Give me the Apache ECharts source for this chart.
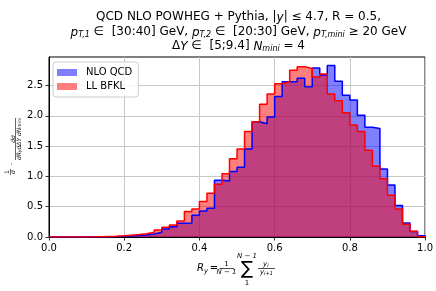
<!DOCTYPE html>
<html><head><meta charset="utf-8">
<script src="https://cdn.jsdelivr.net/npm/echarts@6/dist/echarts.min.js"></script>
<style>html,body{margin:0;padding:0;background:#fff}#c{width:436px;height:291px}</style>
</head><body><div id="c"></div>
<script>
// bin edges (width 0.02)
const binEdges = [0.00,0.02,0.04,0.06,0.08,0.10,0.12,0.14,0.16,0.18,
  0.20,0.22,0.24,0.26,0.28,0.30,0.32,0.34,0.36,0.38,
  0.40,0.42,0.44,0.46,0.48,0.50,0.52,0.54,0.56,0.58,
  0.60,0.62,0.64,0.66,0.68,0.70,0.72,0.74,0.76,0.78,
  0.80,0.82,0.84,0.86,0.88,0.90,0.92,0.94,0.96,0.98,1.00];
const nloQCD = [0,0,0,0,0,0.002,0.003,0.005,0.008,0.012,
  0.018,0.025,0.033,0.05,0.078,0.13,0.17,0.225,0.23,0.36,
  0.43,0.475,0.935,0.925,1.08,1.15,1.45,1.90,1.87,1.98,
  2.32,2.56,2.56,2.62,2.48,2.79,2.67,2.83,2.57,2.34,
  2.26,2.01,1.81,1.79,1.12,0.86,0.52,0.23,0.09,0.02];
const llBFKL = [0,0,0,0.001,0.002,0.003,0.006,0.01,0.014,0.02,
  0.03,0.04,0.055,0.08,0.115,0.16,0.2,0.265,0.42,0.46,
  0.585,0.72,0.87,1.045,1.29,1.45,1.74,1.9,2.19,2.36,
  2.53,2.56,2.75,2.81,2.78,2.64,2.69,2.36,2.25,2.05,
  1.85,1.74,1.43,1.17,0.96,0.69,0.46,0.21,0.095,0.005];
const xTicks = [0.0,0.2,0.4,0.6,0.8,1.0];
const yTicks = [0.0,0.5,1.0,1.5,2.0,2.5];
const seriesNames = ['NLO QCD','LL BFKL'];

function stepData(vals){
  const d = vals.map((v,i)=>[binEdges[i], v]);
  d.push([binEdges[vals.length], vals[vals.length-1]]);
  d.push([binEdges[vals.length], 0]);
  return d;
}
const FONT = 'DejaVu Sans';
const chart = echarts.init(document.getElementById('c'), null, {renderer:'canvas'});
function areaSeries(name, vals, col, z){
  return {name, type:'line', step:'end', data:stepData(vals), showSymbol:false, symbol:'none',
    lineStyle:{width:0, color:col}, itemStyle:{color:col}, areaStyle:{color:col, opacity:0.5},
    z, silent:true, animation:false};
}
function lineSeries(name, vals, col, z){
  return {name, type:'line', step:'end', data:stepData(vals), showSymbol:false, symbol:'none',
    lineStyle:{width:1.5, color:col}, itemStyle:{color:col}, z, silent:true, animation:false};
}
const txt = (text, x, y, size, extra) => ({type:'text', x, y, silent:true,
  style: Object.assign({text, font: (extra&&extra.italic?'italic ':'') + size + 'px ' + FONT, fill:'#000',
   align:'center', verticalAlign:'middle'}, extra&&extra.style||{})});
const ln = (x1,y1,x2,y2,w) => ({type:'line', silent:true, shape:{x1,y1,x2,y2}, style:{stroke:'#000', lineWidth:w||0.7}});

const rich = {
  i:{fontStyle:'italic', fontSize:12, fontFamily:FONT, lineHeight:14, verticalAlign:'bottom'},
  s:{fontStyle:'italic', fontSize:8, fontFamily:FONT, lineHeight:10, verticalAlign:'bottom', padding:[6,0,0,0]}
};
const titleLine = (text, y) => ({type:'text', x:238.5, y, silent:true,
  style:{text, font:'12px '+FONT, fill:'#000', align:'center', verticalAlign:'middle', rich}});

const graphics = [
  titleLine('QCD NLO POWHEG + Pythia, |{i|y}| ≤ 4.7, R = 0.5,', 17),
  titleLine('{i|p}{s|T,1} ∈  [30:40] GeV, {i|p}{s|T,2} ∈  [20:30] GeV, {i|p}{s|T,mini} ≥ 20 GeV', 31.5),
  titleLine('Δ{i|Y} ∈  [5;9.4] {i|N}{s|mini} = 4', 45.5),
  // x axis name
  txt('R', 200.5, 268, 10, {italic:true}),
  txt('y', 206, 271, 7, {italic:true}),
  txt('=', 214, 268, 10),
  txt('1', 226.5, 264.5, 7),
  ln(219.5, 268.5, 234, 268.5),
  txt('N − 1', 226.5, 272.5, 7, {italic:true}),
  txt('N − 1', 247, 256.5, 7, {italic:true}),
  txt('∑', 247, 269, 18),
  txt('1', 247, 283.5, 7),
  txt('y', 265, 264, 7, {italic:true}),
  txt('i', 268, 266, 5, {italic:true}),
  ln(258, 268.5, 275, 268.5),
  txt('y', 262, 272, 7, {italic:true}),
  txt('i+1', 268.5, 274, 5, {italic:true}),
  // y axis name (rotated group)
  {type:'group', x:15, y:150, rotation:Math.PI/2, silent:true, children:[
    txt('1', -22, -7.5, 6),
    ln(-25, -4.5, -19, -4.5, 0.6),
    txt('σ', -22, -1.5, 6, {italic:true}),
    txt('·', -14, -3, 7),
    txt('dσ', 11, -2, 6, {italic:true}),
    ln(-10, 0.5, 32, 0.5, 0.6),
    {type:'text', x:11, y:3.5, silent:true, style:{text:'{a|dR}{b|y}{a|dΔY dN}{b|mini}', align:'center', verticalAlign:'middle',
      rich:{a:{fontSize:6, fontStyle:'italic', fontFamily:FONT, fill:'#000', verticalAlign:'bottom', lineHeight:7},
            b:{fontSize:4.5, fontStyle:'italic', fontFamily:FONT, fill:'#000', verticalAlign:'bottom', lineHeight:5, padding:[2,0,0,0]}}}}
  ]}
];

const option = {
  animation:false,
  backgroundColor:'#fff',
  textStyle:{fontFamily:FONT},
  grid:{left:49, top:57, width:379, height:180, show:true, borderColor:'#000', borderWidth:1, backgroundColor:'transparent'},
  legend:{
    orient:'vertical', left:53, top:62, itemWidth:20, itemHeight:7, itemGap:3, icon:'rect',
    backgroundColor:'rgba(255,255,255,0.85)', borderColor:'#cccccc', borderWidth:1, borderRadius:3,
    padding:[5,6,5,4],
    textStyle:{fontSize:10, fontFamily:FONT, color:'#000', padding:[0,0,0,4], lineHeight:11},
    data:[
      {name:seriesNames[0], icon:'rect', itemStyle:{color:'rgba(0,0,255,0.5)', borderWidth:0}},
      {name:seriesNames[1], icon:'rect', itemStyle:{color:'rgba(255,0,0,0.5)', borderWidth:0}}
    ]
  },
  xAxis:{type:'value', min:0, max:1, interval:0.2,
    axisLine:{lineStyle:{color:'#000', width:1}},
    axisTick:{show:true, inside:false, length:3.5, lineStyle:{color:'#000', width:0.8}},
    axisLabel:{fontSize:10, fontFamily:FONT, color:'#000', margin:6, formatter:v=>v.toFixed(1)},
    splitLine:{show:true, lineStyle:{color:'#c8c8c8', width:1}}
  },
  yAxis:{type:'value', min:0, max:2.97, interval:0.5,
    axisLine:{show:true, lineStyle:{color:'#000', width:1}},
    axisTick:{show:true, inside:false, length:3.5, lineStyle:{color:'#000', width:0.8}, customValues:yTicks},
    axisLabel:{fontSize:10, fontFamily:FONT, color:'#000', margin:6, customValues:yTicks, formatter:v=>v.toFixed(1)},
    splitLine:{show:true, lineStyle:{color:'#c8c8c8', width:1}}
  },
  series:[
    areaSeries(seriesNames[0], nloQCD, '#0000ff', 2),
    areaSeries(seriesNames[1], llBFKL, '#ff0000', 3),
    lineSeries('nlo_edge', nloQCD, '#0000ff', 4),
    lineSeries('ll_edge', llBFKL, '#ff0000', 5)
  ],
  graphic:graphics
};
chart.setOption(option);
</script></body></html>
